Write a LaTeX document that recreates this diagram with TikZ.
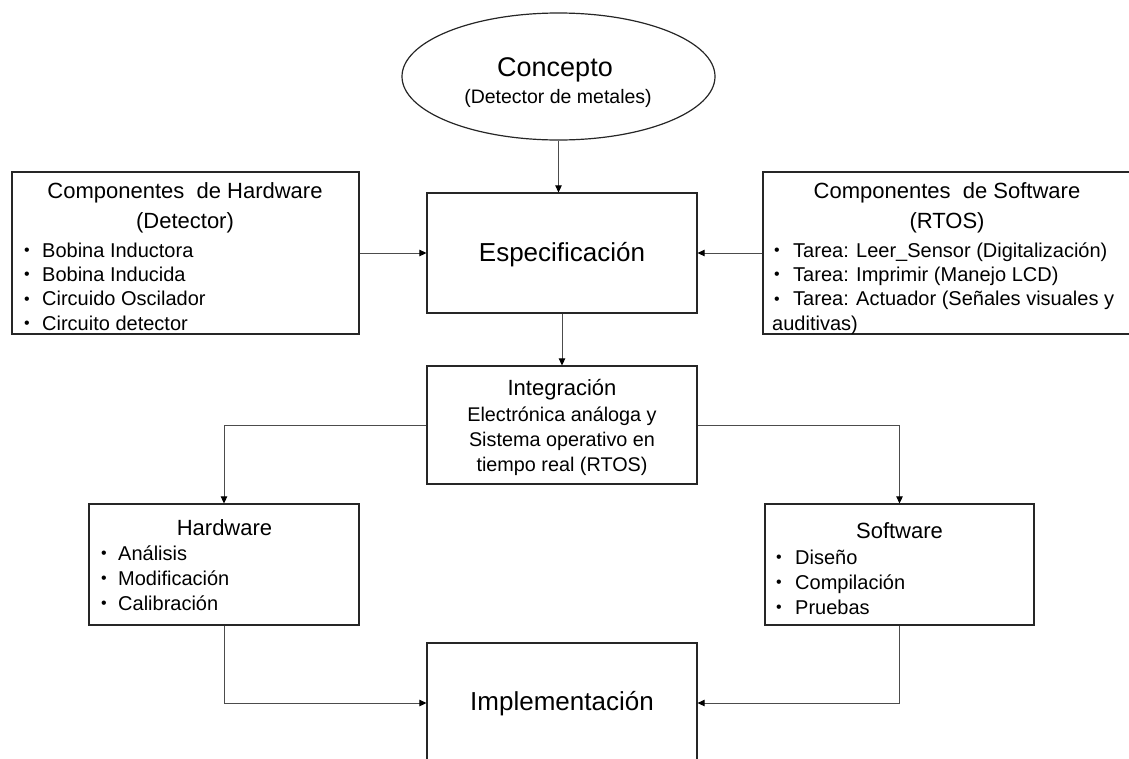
\documentclass[tikz,border=0pt]{standalone}
\usepackage{fontspec}
\setmainfont{Liberation Sans}
\usetikzlibrary{arrows.meta,shapes.geometric}
\tikzset{
  boxnode/.style={draw=black!85, line width=1.2pt, rectangle, inner sep=0pt},
  conn/.style={draw=black!70, line width=0.9pt, -{Triangle[length=7pt,width=6.5pt,color=black]}},
  bigtxt/.style={font=\fontsize{26}{30}\selectfont, inner sep=0pt, anchor=base},
  titletxt/.style={font=\fontsize{22}{26}\selectfont, inner sep=0pt, anchor=base},
  itemtxt/.style={font=\fontsize{20}{24}\selectfont, inner sep=0pt, anchor=base west},
  bullettxt/.style={font=\fontsize{16}{18}\selectfont, inner sep=0pt, anchor=base},
}
\begin{document}
\begin{tikzpicture}[x=1pt,y=-1pt]
\useasboundingbox (0,0) rectangle (1129,758);
\fill[white] (0,0) rectangle (1129,758);
\clip (0,0) rectangle (1129,758);

% shapes
\node[boxnode, ellipse, minimum width=313pt, minimum height=127pt] (concept) at (558.5,76.5) {};
\node[boxnode, minimum width=347pt, minimum height=162pt] (hwc) at (185.5,253) {};
\node[boxnode, minimum width=372pt, minimum height=162pt] (swc) at (949,253) {};
\node[boxnode, minimum width=270pt, minimum height=120pt] (espec) at (562,253) {};
\node[boxnode, minimum width=270pt, minimum height=118pt] (integ) at (562,425) {};
\node[boxnode, minimum width=270pt, minimum height=121pt] (hw) at (224,564.5) {};
\node[boxnode, minimum width=269pt, minimum height=121pt] (sw) at (899.5,564.5) {};
\node[boxnode, minimum width=270pt, minimum height=120pt] (impl) at (562,703) {};

% concept text
\node[font=\fontsize{27}{30}\selectfont, inner sep=0pt, anchor=base] (conceptT) at (555,76) {Concepto};
\node[font=\fontsize{19.5}{22}\selectfont, inner sep=0pt, anchor=base] (conceptS) at (558,103) {(Detector de metales)};

% especificacion
\node[bigtxt] (especT) at (562,261) {Especificación};

% hardware components
\node[titletxt] (hwcT1) at (185,198) {Componentes\ \ de Hardware};
\node[titletxt] (hwcT2) at (185,228) {(Detector)};
\node[bullettxt] (hwcB1) at (27,255.5) {•};
\node[itemtxt] (hwcI1) at (42,257) {Bobina Inductora};
\node[bullettxt] (hwcB2) at (27,279.5) {•};
\node[itemtxt] (hwcI2) at (42,281) {Bobina Inducida};
\node[bullettxt] (hwcB3) at (27,304) {•};
\node[itemtxt] (hwcI3) at (42,305.5) {Circuido Oscilador};
\node[bullettxt] (hwcB4) at (27,328.5) {•};
\node[itemtxt] (hwcI4) at (42,330) {Circuito detector};

% software components
\node[titletxt] (swcT1) at (947,198) {Componentes\ \ de Software};
\node[titletxt] (swcT2) at (947,228) {(RTOS)};
\node[bullettxt] (swcB1) at (777,255.5) {•};
\node[itemtxt] (swcI1) at (793,257) {Tarea: Leer\_Sensor (Digitalización)};
\node[bullettxt] (swcB2) at (777,279.5) {•};
\node[itemtxt] (swcI2) at (793,281) {Tarea: Imprimir (Manejo LCD)};
\node[bullettxt] (swcB3) at (777,304) {•};
\node[itemtxt] (swcI3) at (793,305.5) {Tarea: Actuador (Señales visuales y};
\node[itemtxt] (swcI4) at (772,330) {auditivas)};

% integracion
\node[titletxt] (integT) at (562,395) {Integración};
\node[font=\fontsize{19.8}{24}\selectfont, inner sep=0pt, anchor=base] (integL1) at (562,421) {Electrónica análoga y};
\node[font=\fontsize{19.8}{24}\selectfont, inner sep=0pt, anchor=base] (integL2) at (562,446) {Sistema operativo en};
\node[font=\fontsize{19.8}{24}\selectfont, inner sep=0pt, anchor=base] (integL3) at (562,471) {tiempo real (RTOS)};

% hardware
\node[titletxt] (hwT) at (224.5,535) {Hardware};
\node[bullettxt] (hwB1) at (104,558.5) {•};
\node[itemtxt] (hwI1) at (118,560) {Análisis};
\node[bullettxt] (hwB2) at (104,583.5) {•};
\node[itemtxt] (hwI2) at (118,585) {Modificación};
\node[bullettxt] (hwB3) at (104,608.5) {•};
\node[itemtxt] (hwI3) at (118,610) {Calibración};

% software
\node[titletxt] (swT) at (899.5,538) {Software};
\node[bullettxt] (swB1) at (779,562.5) {•};
\node[itemtxt] (swI1) at (795,564) {Diseño};
\node[bullettxt] (swB2) at (779,587.5) {•};
\node[itemtxt] (swI2) at (795,589) {Compilación};
\node[bullettxt] (swB3) at (779,612.5) {•};
\node[itemtxt] (swI3) at (795,614) {Pruebas};

% implementacion
\node[bigtxt] (implT) at (562,710) {Implementación};

% connectors
\draw[conn] (concept.south) -- (concept.south |- espec.north);
\draw[conn] (hwc.east) -- (espec.west);
\draw[conn] (swc.west) -- (espec.east);
\draw[conn] (espec.south) -- (integ.north);
\draw[conn] (integ.west) -| (hw.north);
\draw[conn] (integ.east) -| (sw.north);
\draw[conn] (hw.south) |- (impl.west);
\draw[conn] (sw.south) |- (impl.east);
\end{tikzpicture}
\end{document}
